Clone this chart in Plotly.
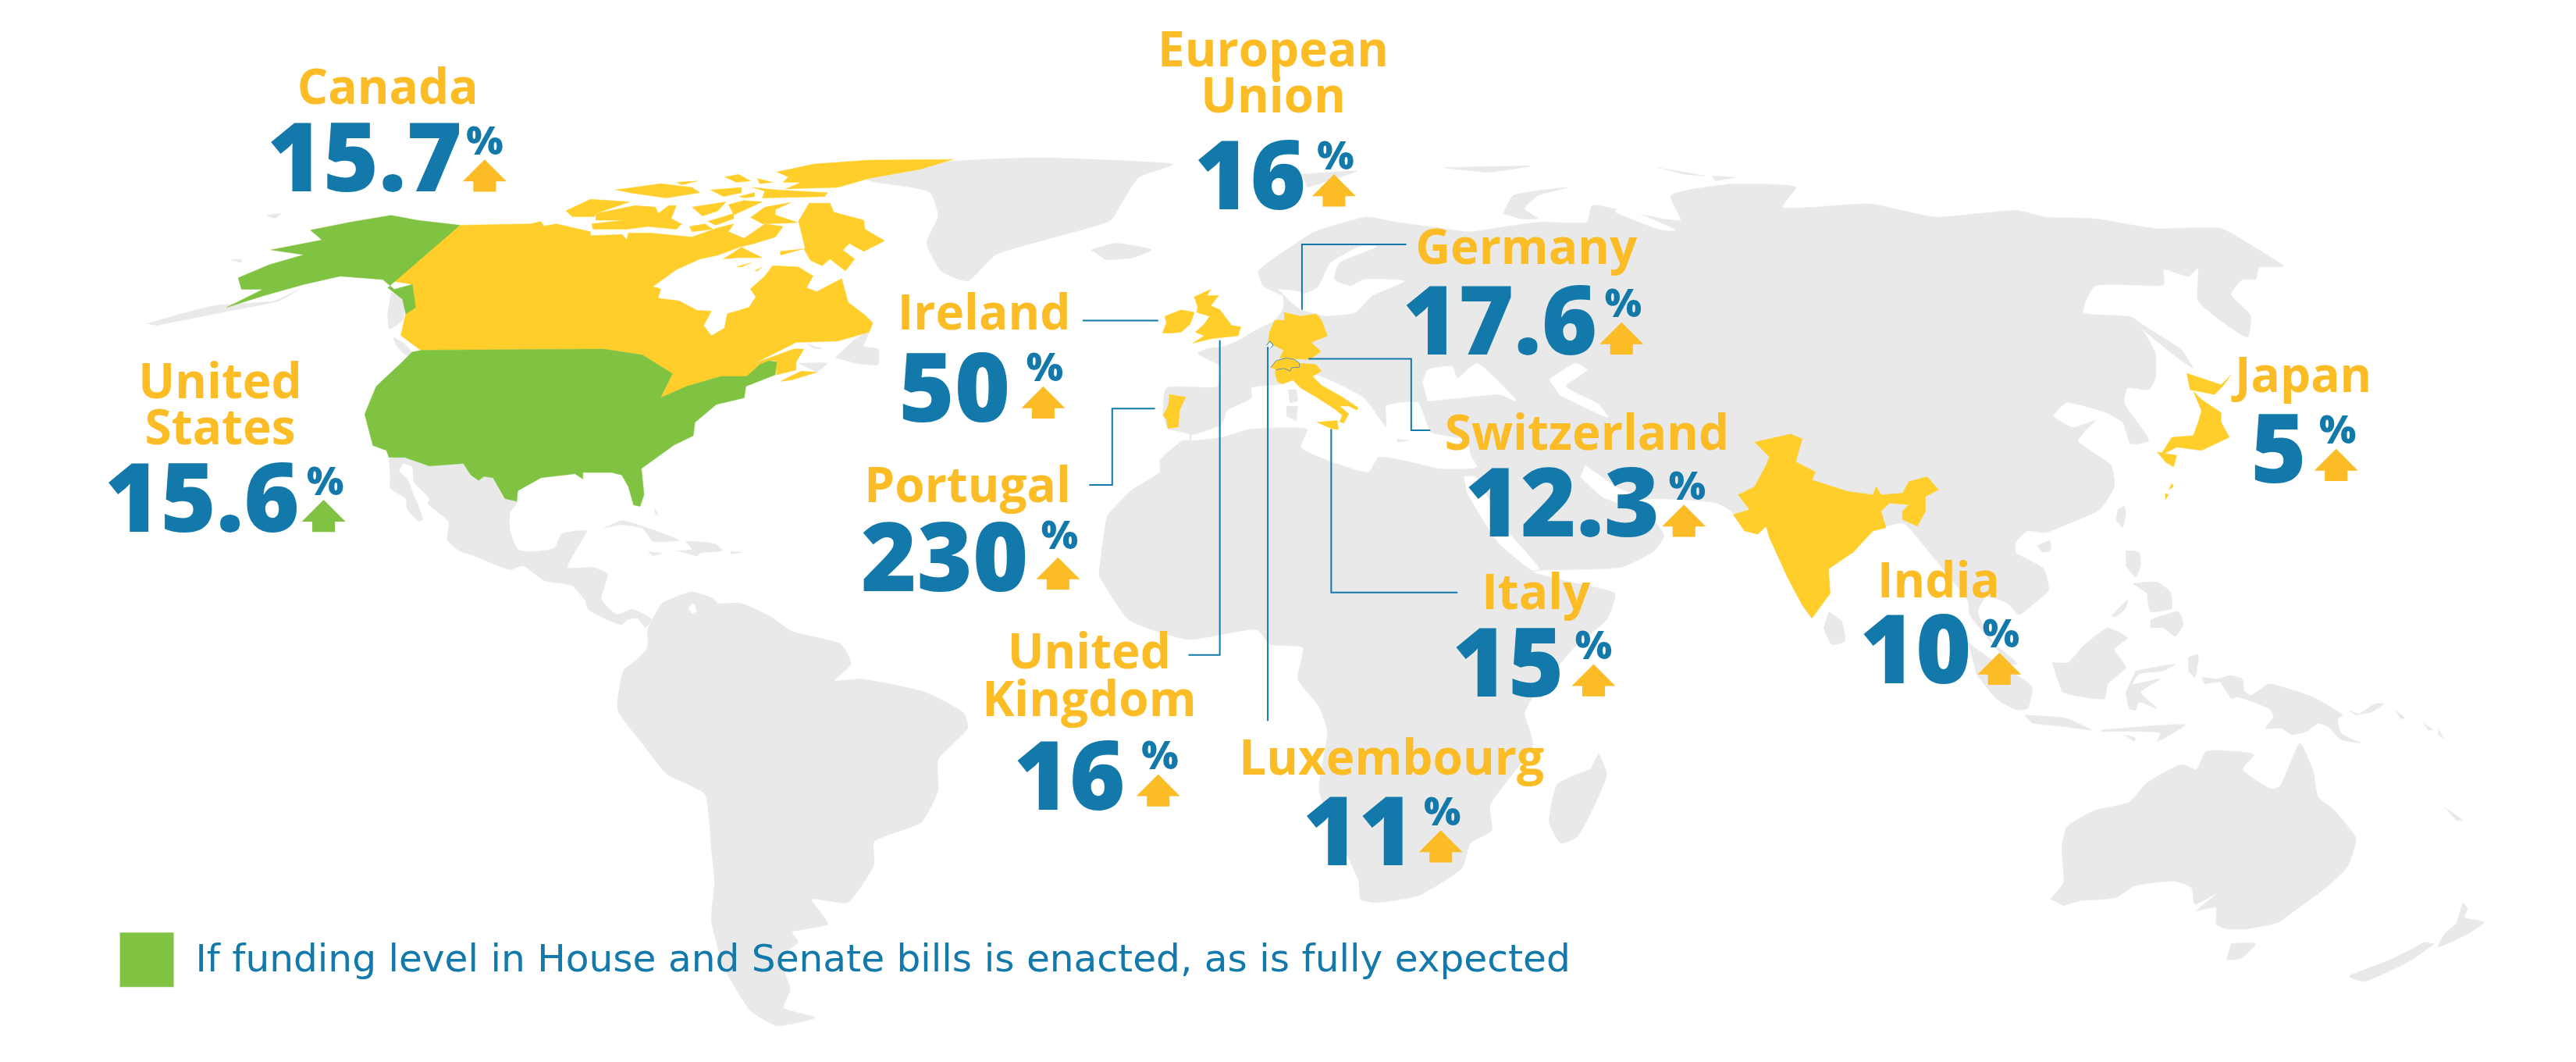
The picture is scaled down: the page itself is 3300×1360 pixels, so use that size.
import plotly.graph_objects as go

# map drawn in units of a 1568 x 646 canvas, outlines
BLUE = '#1279AA'
LABEL_YELLOW = '#FBBC25'
MAP_YELLOW = '#FFCE2B'
GREEN = '#80C342'
GREY = '#E9E9E9'

# ---- figures on the chart
label_text = ['Canada', 'European', 'Union', 'Germany', 'Ireland', 'Portugal', 'Switzerland', 'Italy',
              'United', 'Kingdom', 'Luxembourg', 'India', 'Japan', 'United', 'States']
label_x = [236, 775, 775, 929, 599, 589, 966, 935, 663, 663, 847, 1180, 1402, 134, 134]
label_y = [56, 33, 61, 153, 193, 298, 266, 363, 399, 428, 464, 356, 231, 235, 263]

value_text = ['15.7', '16', '17.6', '50', '230', '12.3', '15', '16', '11', '10', '5', '15.6']
value_x = [222, 761, 913, 581, 575, 951, 918, 651, 827, 1166, 1387, 123]
value_y = [102, 113, 201, 242, 345, 312, 409, 478, 512, 401, 279, 309]

pct_x = [295, 813, 988, 636, 645, 1027, 970, 706, 878, 1218, 1423, 198]
pct_y = [88, 97, 187, 226, 328, 298, 395, 462, 496, 388, 264, 295]

arrow_x = [295, 812, 987, 635, 644, 1025, 970, 705, 877, 1217, 1422, 197]
arrow_y = [97, 106, 196, 235, 339, 307, 404, 471, 505, 397, 273, 304]
arrow_color = [LABEL_YELLOW] * 11 + [GREEN]

legend_text = 'If funding level in House and Senate bills is enacted, as is fully expected'

# ---- leader lines
leader_ireland = [(659, 195), (705, 195)]
leader_portugal = [(663, 295), (677, 295), (677, 248.6), (703, 248.6)]
leader_uk = [(742.5, 207), (742.5, 398.4), (723.4, 398.4)]
leader_lux = [(771.7, 211), (771.7, 438.6)]
leader_germany = [(856, 148.7), (792.5, 148.7), (792.5, 188.5)]
leader_swiss = [(796.5, 218.3), (859, 218.3), (859, 261.7), (870.6, 261.7)]
leader_italy = [(810.3, 261), (810.3, 360.4), (887.2, 360.4)]

# ---- grey land
afro_eurasia = [(724, 268), (720, 268), (706, 280), (706, 287), (689, 298), (674, 314), (672, 325), (669, 350),
                (670, 352), (687, 377), (723, 389), (765, 383), (773, 392), (793, 394), (790, 413), (803, 430),
                (808, 445), (803, 481), (827, 536), (828, 547), (837, 549), (863, 545), (890, 528), (895, 513),
                (908, 505), (907, 490), (933, 453), (928, 434), (933, 424), (960, 392), (978, 377), (983, 361),
                (960, 355), (933, 348), (937, 347), (987, 345), (1007, 335), (1013, 326), (1008, 318), (995, 310),
                (1000, 304), (1045, 306), (1055, 312), (1062, 323), (1075, 321), (1088, 351), (1103, 376),
                (1113, 346), (1140, 323), (1158, 318), (1162, 321), (1176, 338), (1198, 366), (1199, 374),
                (1205, 382), (1224, 404), (1228, 404), (1212, 389), (1204, 372), (1209, 363), (1222, 367),
                (1229, 374), (1237, 368), (1247, 359), (1244, 346), (1227, 336), (1227, 330), (1234, 323),
                (1245, 324), (1258, 319), (1278, 310), (1287, 296), (1285, 283), (1265, 268), (1275, 256),
                (1262, 260), (1250, 253), (1258, 245), (1282, 251), (1292, 257), (1297, 270), (1308, 268),
                (1293, 245), (1295, 236), (1308, 237), (1312, 230), (1312, 215), (1305, 202), (1298, 193),
                (1268, 190), (1275, 174), (1317, 173), (1317, 164), (1332, 168), (1338, 163), (1338, 183),
                (1368, 205), (1370, 192), (1358, 179), (1365, 170), (1373, 170), (1375, 163), (1390, 162),
                (1375, 152), (1352, 139), (1312, 139), (1275, 133), (1245, 132), (1228, 128), (1178, 132),
                (1138, 124), (1085, 126), (1093, 114), (1053, 112), (1017, 119), (1023, 134), (983, 127),
                (969, 125), (966, 135), (938, 135), (915, 138), (895, 141), (879, 139), (849, 135), (832, 132),
                (800, 141), (792, 146), (766, 165), (769, 174), (779, 179), (781, 180), (781, 188), (776, 195),
                (766, 200), (754, 207), (744, 211), (735, 212), (729, 215), (743, 223), (741, 235), (710, 236),
                (708, 252), (711, 261), (716, 262), (724, 264)]
south_america = [(397, 377), (403, 367), (421, 360), (434, 364), (437, 367), (451, 367), (469, 375), (482, 384), (512, 392),
                 (518, 404), (508, 414), (524, 413), (563, 421), (587, 434), (589, 443), (571, 462), (571, 481),
                 (561, 500), (532, 512), (532, 526), (516, 549), (494, 547), (504, 562), (482, 567), (486, 573),
                 (475, 582), (481, 602), (477, 613), (496, 619), (473, 624), (457, 615), (441, 589), (433, 560),
                 (435, 536), (433, 517), (429, 483), (406, 471), (390, 451), (376, 432), (378, 413), (380, 407),
                 (388, 401), (394, 394), (394, 383)]
mexico_central = [(236.8, 278.7), (237.6, 289.8), (237.6, 297), (247, 303.3), (247.9, 309.6), (255, 317), (257.4, 316),
                  (251.8, 300.9), (247.9, 291.4), (243, 286.6), (245.5, 281.9), (251, 284), (251.8, 293), (261.3, 303.3),
                  (260.5, 306.4), (273.2, 317.5), (272.4, 328.6), (279.5, 335), (288.2, 338), (310.4, 346.5), (318.3, 344),
                  (331, 353), (348.4, 356.3), (356.4, 365.8), (358, 370.6), (366, 375.3), (378.5, 380), (381.7, 377),
                  (388, 376), (392.8, 381.7), (396.8, 377), (385, 370.6), (375.4, 373.8), (366, 364.3), (369.8, 349.2),
                  (361.1, 345.2), (345.3, 345.2), (353.2, 330.2), (357.2, 323), (342.1, 324.7), (337.4, 333.4),
                  (321.5, 335.7), (315.2, 334.2), (310.4, 323), (310.4, 312), (315.2, 304.9), (307, 303.3), (299.3, 289.8),
                  (282, 281.9), (261.3, 283.5), (245.5, 277.9)]
cuba = [(367.4, 321.5), (378.5, 316.7), (392.8, 320.7), (413.4, 328.6), (397.5, 329.4), (391.2, 321.5), (378.5, 319.1)]
hispaniola = [(411.8, 335), (421.3, 334.2), (417.4, 329.4), (435.6, 331), (439.5, 335), (426, 336.5), (424.5, 338.6)]
jamaica = [(394.4, 335.7), (403.1, 336.5), (397.5, 338.1)]
puerto_rico = [(444.3, 335.4), (451.4, 336), (445, 337)]
bahamas = [(398.3, 308.8), (400.7, 313.6), (398.6, 312)]
newfoundland = [(508.3, 217.8), (521, 205.9), (529, 202), (525.8, 210.7), (534.5, 212.3), (534.5, 221.8), (521, 221)]
anticosti = [(491, 209), (500.4, 212.3), (495, 212)]
cape_breton = [(486, 221), (503.6, 221), (497.2, 226.5)]
bc_islands = [(238, 178), (246, 180), (245, 195), (237, 200), (236, 190)]
vancouver = [(239, 205), (246, 209), (253, 217), (247, 216), (241, 210)]
aleutians = [(89, 197), (130, 186), (167, 183), (182, 176), (170, 183), (135, 190), (95, 198)]
wrangel = [(162, 131), (171, 130), (167, 133)]
st_lawrence = [(140, 158), (147, 158), (147, 160)]
greenland = [(523, 108), (581, 98), (633, 96), (689, 98), (714, 100), (693, 108), (683, 123), (676, 134),
             (643, 144), (606, 155), (589, 171), (573, 165), (564, 148), (571, 131), (566, 117), (533, 111)]
iceland = [(664, 152), (679, 148), (701, 152), (689, 157), (673, 158)]
svalbard = [(792, 106), (826, 104), (796, 114)]
franz_josef = [(877, 102), (932, 101), (905, 105)]
severnaya = [(1009, 102), (1038, 107), (1025, 106)]
severnaya2 = [(1042, 107), (1056, 108), (1044, 110)]
novaya_zemlya = [(915, 130), (921, 119), (955, 114), (936, 119), (928, 127), (936, 133), (925, 133)]
madagascar = [(973, 458), (978, 471), (960, 509), (950, 513), (943, 500), (948, 477), (968, 468)]
sardinia = [(784, 237), (789, 237), (790, 244), (785, 245)]
corsica = [(783, 247), (790, 247), (789, 256), (783, 253)]
crete = [(850, 267), (858, 268), (851, 269)]
cyprus = [(888, 268), (893, 269), (889, 270)]
sakhalin = [(1298, 193), (1305, 198), (1328, 213), (1335, 224), (1322, 215), (1305, 201)]
sri_lanka = [(1113, 372), (1121, 378), (1123, 390), (1115, 392), (1110, 382)]
taiwan = [(1289, 310), (1293, 308), (1294, 312), (1292, 321), (1288, 316)]
hainan = [(1240, 332), (1248, 329), (1248, 335), (1243, 336)]
luzon = [(1294, 335), (1302, 336), (1303, 344), (1300, 351), (1294, 344)]
visayas = [(1298, 355), (1313, 354), (1321, 360), (1322, 370), (1309, 372), (1307, 361)]
mindanao = [(1309, 377), (1326, 372), (1329, 380), (1324, 387), (1317, 382), (1309, 382)]
palawan = [(1285, 375), (1295, 365), (1294, 370), (1288, 375)]
sumatra = [(1198, 391), (1209, 399), (1237, 418), (1234, 431), (1228, 432), (1215, 425), (1203, 410)]
borneo = [(1249, 403), (1259, 403), (1268, 393), (1283, 382), (1295, 388), (1287, 395), (1294, 406), (1283, 416),
          (1281, 425), (1262, 423), (1255, 421)]
sulawesi = [(1300, 408), (1324, 404), (1317, 408), (1302, 410), (1298, 416), (1315, 413), (1303, 421), (1313, 431),
            (1302, 427), (1300, 432), (1296, 431), (1294, 421)]
java = [(1232, 435), (1258, 437), (1273, 444), (1256, 442), (1237, 440)]
sunda = [(1279, 444), (1330, 441), (1313, 451), (1315, 446), (1279, 445)]
sumba = [(1293, 447), (1300, 449), (1299, 451)]
halmahera = [(1332, 400), (1338, 398), (1336, 412), (1332, 408)]
seram = [(1340, 412), (1355, 414), (1342, 416)]
new_guinea = [(1350, 413), (1358, 411), (1365, 413), (1366, 420), (1370, 423), (1381, 416), (1393, 419), (1408, 424),
              (1417, 429), (1426, 435), (1423, 437), (1425, 446), (1437, 452), (1425, 450), (1417, 442), (1411, 440),
              (1404, 445), (1395, 447), (1389, 443), (1379, 443), (1384, 436), (1381, 431), (1362, 424), (1358, 425)]
new_britain = [(1429, 432), (1436, 434), (1446, 428), (1451, 428), (1444, 433), (1434, 435)]
solomon1 = [(1458, 432), (1464, 437), (1461, 437)]
solomon2 = [(1475, 440), (1481, 444), (1478, 444)]
solomon3 = [(1484, 443), (1487, 449), (1484, 447)]
new_caledonia = [(1488, 491), (1499, 499), (1495, 499)]
australia = [(1248, 547), (1256, 537), (1255, 516), (1258, 503), (1275, 493), (1296, 488), (1307, 476), (1328, 465),
             (1337, 468), (1343, 457), (1372, 459), (1365, 468), (1383, 480), (1388, 478), (1400, 452), (1408, 469),
             (1411, 485), (1420, 492), (1434, 510), (1429, 527), (1417, 539), (1394, 556), (1387, 561), (1368, 565),
             (1355, 565), (1349, 562), (1349, 552), (1337, 554), (1350, 543), (1336, 550), (1334, 540), (1324, 536),
             (1299, 539), (1288, 546), (1266, 548), (1256, 551)]
tasmania = [(1358, 574), (1373, 574), (1364, 583), (1355, 584)]
nz_north = [(1499, 549), (1502, 553), (1500, 558), (1512, 561), (1504, 567), (1484, 576), (1488, 568), (1495, 562)]
nz_south = [(1482, 574), (1466, 585), (1439, 597), (1430, 594), (1457, 583), (1476, 573)]

# ---- water cut out of the grey land
mediterranean = [(725, 265), (744, 258), (747, 250), (762, 242), (762, 236), (779, 234), (800, 228), (830, 242),
                 (844, 260), (844, 247), (863, 245), (871, 263), (893, 268), (895, 277), (899, 284), (877, 285),
                 (855, 280), (839, 278), (833, 287), (817, 283), (792, 272), (796, 261), (782, 260), (760, 261),
                 (743, 266), (725, 268)]
black_sea = [(866, 233), (869, 225), (884, 223), (887, 230), (899, 221), (923, 244), (913, 240), (889, 242), (869, 244)]
caspian = [(943, 231), (959, 221), (966, 225), (953, 235), (973, 246), (979, 254), (949, 240)]
red_sea = [(891, 290), (898, 290), (915, 320), (937, 346), (933, 347), (912, 330), (893, 300)]
persian_gulf = [(965, 283), (985, 297), (999, 303), (990, 307), (975, 302), (962, 290)]
baltic = [(791, 188), (806, 192), (825, 190), (835, 180), (855, 171), (830, 170), (822, 174), (812, 170), (815, 160),
          (838, 150), (828, 150), (810, 160), (802, 175), (790, 180)]
skagerrak = [(778, 176), (792, 178), (796, 188), (790, 187), (782, 180)]
ob_gulf = [(985, 126), (1000, 131), (1020, 140), (1012, 140), (995, 134), (983, 129)]
maracaibo = [(419, 370), (422, 367), (424, 372), (421, 373)]

# ---- yellow countries
canada_main = [(280, 137), (323, 136.2), (329.3, 134.7), (331, 137.5), (338.8, 136.2), (359.4, 141), (359.4, 143.4),
               (378.4, 142.6), (381.6, 145.7), (382.4, 141.8), (395.9, 141.8), (421.2, 144.2), (437, 138.6),
               (446.6, 136.2), (443.4, 141), (453, 145), (465.6, 136.2), (476.6, 137.8), (472, 144.2), (459.2, 148.1),
               (449.7, 150.5), (437, 155.2), (426, 157.6), (411.7, 164), (397.4, 174.3), (402.2, 175.8), (400.6, 181.4),
               (413.3, 183), (424.4, 188.8), (433, 189.3), (428.3, 198), (433, 204.3), (441, 199.6), (442.6, 190.9),
               (456, 186.9), (460, 180.6), (456.8, 175.8), (465.6, 167.9), (470.3, 161.6), (486.2, 162.4), (494.9, 167.9),
               (490.9, 175), (497.2, 177.4), (512.3, 169.5), (516.2, 183.8), (526.5, 191.7), (531.3, 196.4), (529, 202),
               (510, 207.5), (484.6, 208.3), (459.2, 221), (462.4, 221.8), (454.5, 229), (438.6, 229), (418, 235),
               (402, 242), (409.3, 227.3), (391.1, 215.9), (367.4, 212.3), (256, 213),
               (244, 204), (247, 191), (251, 173), (233, 170)]
baffin = [(486, 134.7), (492.5, 123.6), (505.2, 123.6), (507.5, 129.1), (525.8, 133.9), (526.5, 139.4), (538.4, 146.5),
          (525.8, 152.9), (517, 148.1), (513, 152.1), (520.2, 157.6), (514.6, 164.8), (505.2, 157.6), (500.4, 161.6),
          (493.3, 158.4), (489.3, 151.3), (475, 155.2), (475, 152.9), (490, 151.3)]
devon_bylot = [(456.8, 132.3), (465.6, 126), (481.4, 123.2), (471.9, 127.5), (471.9, 130.7), (485.4, 135.4), (464, 136.2)]
banks = [(344.4, 128.3), (359.4, 121.2), (383.2, 122.8), (362.6, 129.9), (361.8, 131.8), (348.3, 131.8)]
victoria = [(362.6, 129.9), (386.4, 125.1), (399, 126), (400.6, 129.9), (407, 125.1), (411.7, 125.1), (408.5, 133),
            (414.9, 136.2), (411.7, 139.4), (394.3, 137.8), (381.6, 139.4), (361, 139.4), (360.2, 136.2), (380, 133.9),
            (362.6, 133.9)]
prince_wales = [(421.2, 126), (441.8, 122.8), (437, 128.3), (427.5, 131.5)]
king_william = [(419.6, 137.8), (429.1, 136.2), (433.9, 139.4), (421.2, 141)]
somerset = [(430.7, 134.7), (446.6, 129.9), (446.6, 133), (435.5, 137)]
cornwallis = [(443.4, 124.4), (452.9, 122), (464, 122.8), (446.6, 130.7)]
melville = [(374.5, 115.6), (402.2, 111.7), (421.2, 114), (426, 117.2), (405.4, 120.4), (383.2, 117.2)]
prince_patrick = [(411.7, 110.9), (424.4, 110.1), (414.9, 112.5)]
bathurst = [(432.3, 115.6), (451.3, 114), (451.3, 117.2), (440.2, 119.6)]
cornwall = [(449.7, 119.6), (459.2, 117.2), (459.2, 119.6), (452.9, 120.4)]
devon = [(457.6, 114), (473.5, 115.6), (503.6, 117.2), (502, 119.6), (464, 120.4), (465.6, 116.4)]
ellef = [(441, 107.7), (449.7, 106.1), (456.8, 110.1), (448.1, 110.9)]
amund = [(460.8, 108.5), (470.3, 110.9), (462.4, 111.7)]
ellesmere = [(472.7, 104.6), (489.3, 101.4), (495.7, 99.8), (528.9, 97.4), (580, 97), (560, 103), (528.9, 108.5),
             (509.9, 114), (478.2, 114.9), (487.7, 110.9), (476.6, 110.9), (479.8, 107.7)]
southampton = [(440.2, 157.6), (451.3, 150.5), (464, 156.8), (451.3, 156.8)]
coats = [(448, 162.4), (456.8, 160), (451.3, 162.4)]
mansel = [(459.2, 164.8), (464, 162.4), (460.8, 165)]
new_brunswick = [(459.2, 221), (483, 212.3), (489.3, 212.3), (484.6, 220.2), (484.6, 225), (472.7, 228), (472, 219.4),
                 (468, 219.4), (462.4, 221.8)]
nova_scotia = [(475, 232), (487.7, 225.7), (497.2, 226.5), (481.4, 231.3)]
ireland = [(707.5, 202.7), (710, 196.4), (709, 192.4), (719, 188.5), (727, 190), (724.4, 197.2), (719, 202), (712.5, 202.7)]
britain = [(726.8, 180.6), (737, 176), (734.7, 179.8), (741.8, 179.8), (737, 186), (742.6, 188.5), (749.7, 198),
           (755.3, 198.8), (753.7, 204.3), (737.9, 205.9), (726, 208.8), (733, 204.3), (727.6, 202), (733, 197.2),
           (736.3, 192.4), (728.4, 190), (729, 186.9)]
germany = [(781.4, 190), (791.7, 192.4), (801.2, 190.9), (804.4, 194.8), (808, 204.3), (798, 208.3), (804, 213.8),
           (797.3, 218.6), (779, 217.8), (781.4, 213), (772, 208.3), (772.7, 202), (776, 194.8), (782, 194.8)]
italy = [(776, 227), (776.7, 224.9), (781.4, 224.1), (786.2, 223.6), (791, 221), (801, 221.7), (804.4, 225.7),
         (798.9, 228.9), (804.4, 234.4), (817, 241.5), (826.6, 247.9), (825.8, 249.5), (821, 247), (815.5, 247),
         (821, 251.8), (817.9, 257.4), (815.5, 256.6), (817, 252.6), (812.3, 248.7), (801.2, 241.5), (791.7, 236),
         (787, 231.2), (780.6, 233.6), (777.5, 232)]
sicily = [(801.5, 256.9), (813.9, 255.8), (814.7, 261.3), (810, 260.6)]
portugal = [(711.7, 240), (721.7, 241.5), (718, 249.5), (717.3, 259.8), (711, 260.6), (710, 255), (708, 252.6), (711, 247)]
india = [(1068, 269), (1090, 264), (1097, 267), (1093, 281), (1105, 287), (1103, 292), (1125, 299), (1140, 301),
         (1142, 296), (1145, 301), (1158, 300), (1162, 293), (1173, 290), (1180, 298), (1172, 302), (1172, 311),
         (1167, 320), (1158, 316), (1158, 311), (1162, 307), (1150, 306), (1145, 311), (1148, 321), (1140, 323),
         (1128, 336), (1113, 346), (1114, 361), (1103, 376), (1097, 368), (1088, 351), (1077, 327), (1075, 320),
         (1070, 325), (1062, 323), (1055, 313), (1065, 310), (1058, 301), (1068, 296), (1075, 283), (1077, 278)]
hokkaido = [(1331, 227), (1352, 234), (1358, 228), (1353, 235), (1348, 240), (1333, 237)]
honshu = [(1335, 238), (1340, 243), (1352, 251), (1352, 257), (1357, 266), (1340, 274), (1325, 272), (1315, 277),
          (1322, 266), (1335, 265), (1338, 257), (1340, 250)]
kyushu = [(1313, 275), (1325, 277), (1323, 284), (1318, 281)]
ryukyu = [(1322, 294), (1323, 296), (1320, 298)]
ryukyu2 = [(1318, 300), (1320, 301), (1318, 304)]
switzerland = [(773.5, 223.6), (776.7, 219.4), (783, 217.8), (787.8, 218.6), (791, 221), (791, 223.3), (786.2, 223.6),
               (785.4, 225.7), (781.4, 224.1), (776.7, 224.9)]
luxembourg = [(771, 210), (773, 207.5), (775, 210), (773.5, 211.5)]

# ---- green
alaska = [(280, 137), (254, 134), (238, 131), (214, 135), (189, 140), (196, 146), (165, 152), (185, 155), (164, 161),
          (145, 169), (147, 176), (160, 176), (138, 187), (160, 180), (185, 173), (207, 168), (233, 170), (240, 176),
          (251, 173), (253, 187), (247, 191), (245, 182), (236, 175)]
usa = [(256, 213), (367.4, 212.3), (391.1, 215.9), (409.3, 227.3), (402, 242), (418, 235), (438.6, 229), (454.5, 229),
       (462.4, 221.8), (468, 219.4), (472.7, 220.2), (471.9, 228), (454, 235), (453, 242), (436, 246),
       (423, 257), (422, 265), (410.2, 270.8), (390.4, 285), (392, 300.9), (389.6, 308), (385.7, 307.2), (382.5, 296.1),
       (378.5, 289), (372.2, 287.4), (354.8, 287.4), (354.8, 291.4), (350, 288.2), (329.4, 290.6), (315.2, 298.5),
       (314.5, 304.9), (307.3, 303.3), (300.1, 290.6), (294.6, 289.8), (291.4, 292.2), (286.7, 289), (282, 281.9),
       (261.3, 283.5), (246.3, 278.2), (236.8, 278.2), (235.2, 274), (227, 271), (222, 252), (229, 235), (244, 221),
       (251, 214)]
legend_box = [(73, 567.4), (105.6, 567.4), (105.6, 600.3), (73, 600.3)]

grey_land = [afro_eurasia, south_america, mexico_central, cuba, hispaniola, jamaica, puerto_rico, bahamas, newfoundland,
             anticosti, cape_breton, bc_islands, vancouver, aleutians, wrangel, st_lawrence, greenland, iceland, svalbard,
             franz_josef, severnaya, severnaya2, novaya_zemlya, madagascar, sakhalin, sri_lanka, taiwan, hainan, luzon,
             visayas, mindanao, palawan, sumatra, borneo, sulawesi, java, sunda, sumba, halmahera, seram, new_guinea,
             new_britain, solomon1, solomon2, solomon3, new_caledonia, australia, tasmania, nz_north, nz_south]
water = [mediterranean, black_sea, caspian, red_sea, persian_gulf, baltic, skagerrak, ob_gulf, maracaibo]
grey_on_water = [sardinia, corsica, crete, cyprus]
yellow_land = [canada_main, baffin, devon_bylot, banks, victoria, prince_wales, king_william, somerset, cornwallis,
               melville, prince_patrick, bathurst, cornwall, devon, ellef, amund, ellesmere, southampton, coats, mansel,
               new_brunswick, nova_scotia, ireland, britain, germany, italy, sicily, portugal, india, hokkaido, honshu,
               kyushu, ryukyu, ryukyu2]
green_land = [alaska, usa, legend_box]
leaders = [leader_ireland, leader_portugal, leader_uk, leader_lux, leader_germany, leader_swiss, leader_italy]

fig = go.Figure()


def add_poly(pts, color, line=None, smooth=False):
    xs = [p[0] for p in pts]
    ys = [p[1] for p in pts]
    ln = dict(color=line or color, width=1 if line else 0.5)
    if smooth:
        ln.update(shape='spline', smoothing=0.5)
    fig.add_trace(go.Scatter(x=xs, y=ys, mode='lines', fill='toself', fillcolor=color, line=ln,
                             hoverinfo='skip', showlegend=False))


for p in grey_land:
    add_poly(p, GREY, smooth=True)
for p in water:
    add_poly(p, 'white', smooth=True)
for p in grey_on_water:
    add_poly(p, GREY)
for p in yellow_land:
    add_poly(p, MAP_YELLOW)
add_poly(switzerland, MAP_YELLOW, line='#5E8FA8')
add_poly(luxembourg, 'white', line=BLUE)
for p in green_land:
    add_poly(p, GREEN)

for p in leaders:
    fig.add_trace(go.Scatter(x=[a[0] for a in p], y=[a[1] for a in p], mode='lines',
                             line=dict(color=BLUE, width=2), hoverinfo='skip', showlegend=False))

# up arrows
for ax, ay, col in zip(arrow_x, arrow_y, arrow_color):
    fig.add_trace(go.Scatter(
        x=[ax, ax + 13.3, ax + 6.9, ax + 6.9, ax - 6.9, ax - 6.9, ax - 13.3],
        y=[ay, ay + 13.3, ay + 13.3, ay + 19.6, ay + 19.6, ay + 13.3, ay + 13.3],
        mode='lines', fill='toself', fillcolor=col, line=dict(color=col, width=0),
        hoverinfo='skip', showlegend=False))

fig.add_trace(go.Scatter(x=label_x, y=label_y, mode='text', text=label_text, textposition='middle center',
                         textfont=dict(family='Open Sans', size=62, color=LABEL_YELLOW, weight=700),
                         hoverinfo='skip', showlegend=False))
fig.add_trace(go.Scatter(x=value_x, y=value_y, mode='text', text=value_text, textposition='middle center',
                         textfont=dict(family='Open Sans', size=122, color=BLUE, weight=800),
                         hoverinfo='skip', showlegend=False))
fig.add_trace(go.Scatter(x=pct_x, y=pct_y, mode='text', text=['%'] * len(pct_x), textposition='middle center',
                         textfont=dict(family='Open Sans', size=50, color=BLUE, weight=800),
                         hoverinfo='skip', showlegend=False))
fig.add_trace(go.Scatter(x=[119], y=[585], mode='text', text=[legend_text], textposition='middle right',
                         textfont=dict(family='DejaVu Sans', size=48.6, color=BLUE, weight=400),
                         hoverinfo='skip', showlegend=False))

fig.update_xaxes(range=[0, 1568], visible=False, fixedrange=True)
fig.update_yaxes(range=[646, 0], visible=False, fixedrange=True)
fig.update_layout(width=3300, height=1360, margin=dict(l=0, r=0, t=0, b=0),
                  plot_bgcolor='white', paper_bgcolor='white')

fig.write_html("out.html", config={'displayModeBar': False}, post_script="document.body.style.margin='0';")
